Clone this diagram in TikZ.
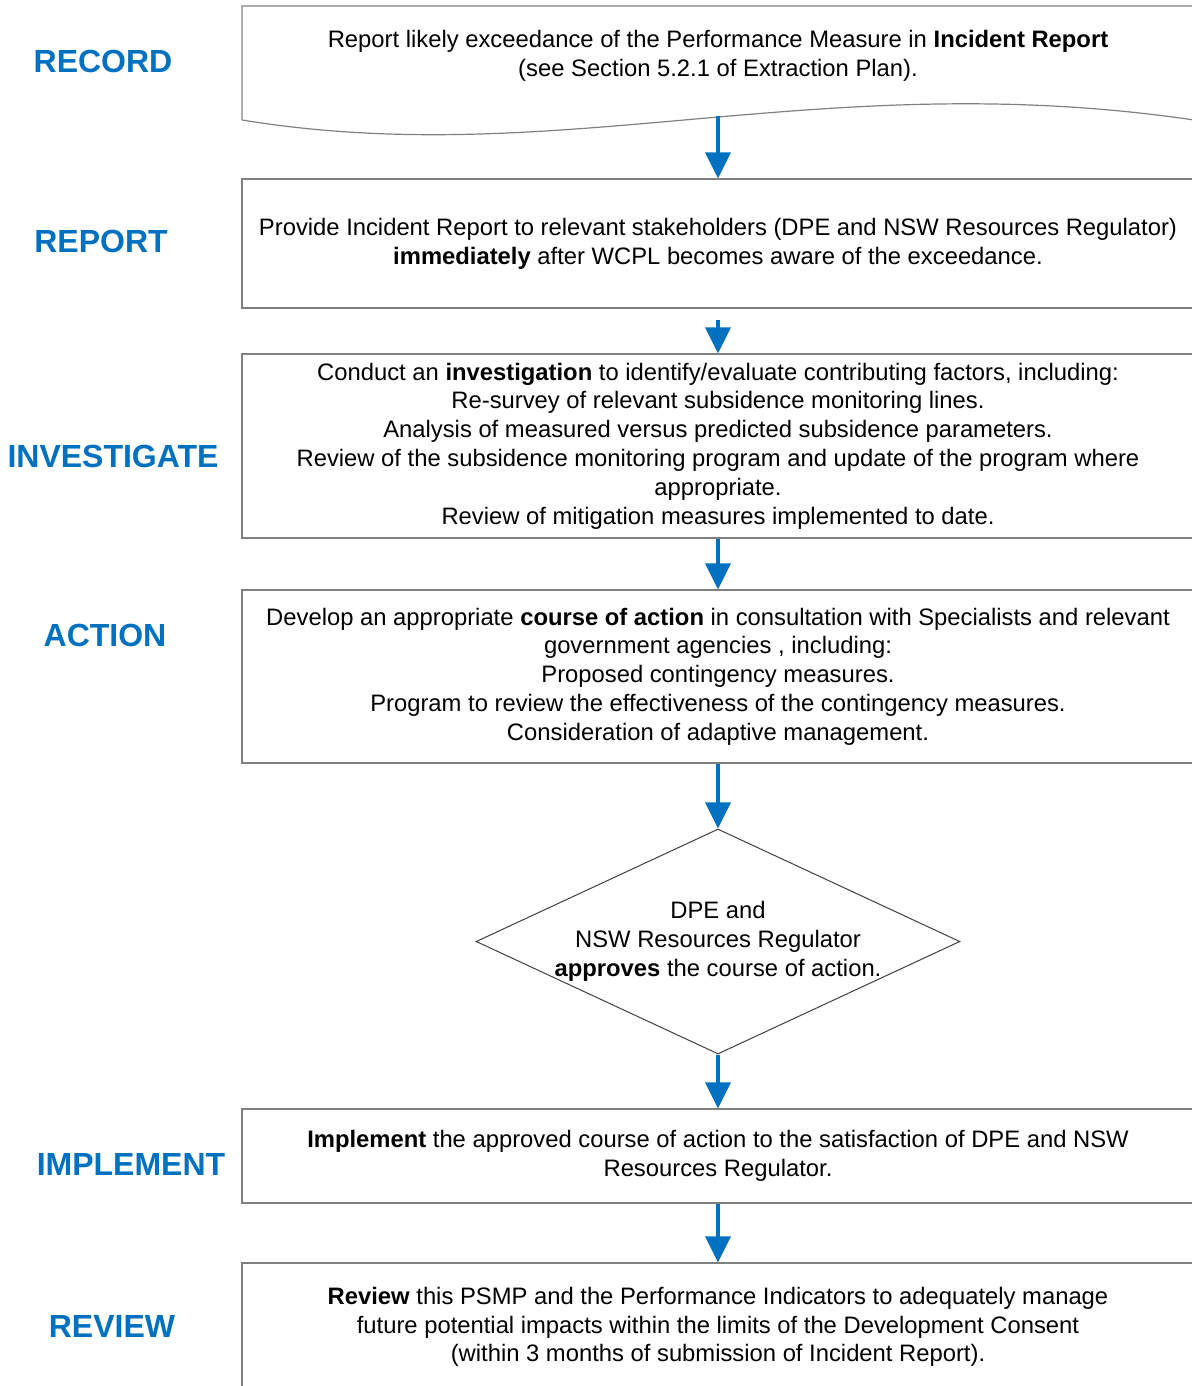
\documentclass[tikz,border=0pt]{standalone}
\usepackage{fontspec}
\setmainfont{Liberation Sans}
\usetikzlibrary{shapes.geometric, arrows.meta}
\definecolor{stageblue}{RGB}{0,112,192}
\definecolor{edgegray}{RGB}{128,128,128}

\begin{document}
\begin{tikzpicture}[x=0.5pt, y=-0.5pt,
        box/.style={draw=edgegray, line width=0.6pt, minimum width=476pt, inner sep=0pt, align=center, font=\fontsize{11.9}{14.4}\selectfont},
        stage/.style={text=stageblue, font=\fontsize{16}{19}\selectfont\bfseries},
        flow/.style={draw=stageblue, line width=1.8pt, -{Triangle[length=13pt, width=12.5pt]}}]
        \useasboundingbox (0,0) rectangle (1192,1386);
        \clip (0,0) rectangle (1192,1386);

        % Stage Labels (Left Column)
        \node[stage] (lrecord) at (103,61) {RECORD};
        \node[stage] (lreport) at (101,241) {REPORT};
        \node[stage] (linvest) at (113,456) {INVESTIGATE};
        \node[stage] (laction) at (105,635) {ACTION};
        \node[stage] (limplement) at (131,1164) {IMPLEMENT};
        \node[stage] (lreview) at (112,1326) {REVIEW};

        % Record (document shape)
        \draw[edgegray, line width=0.6pt] (242,120) -- (242,6) -- (1194,6) -- (1194,120)
            .. controls (820,65) and (560,172) .. (242,120);
        \node[align=center, font=\fontsize{11.9}{14.4}\selectfont] (record) at (718,55.5)
            {Report likely exceedance of the Performance Measure in \textbf{Incident Report}\\(see Section 5.2.1 of Extraction Plan).};
        \coordinate (recordend) at (718,116);

        % Process Boxes
        \node[box, minimum height=64.5pt] (report) at (718,243.5)
            {Provide Incident Report to relevant stakeholders (DPE and NSW Resources Regulator)\\\textbf{immediately} after WCPL becomes aware of the exceedance.};
        \node[box, minimum height=92pt] (invest) at (718,446)
            {Conduct an \textbf{investigation} to identify/evaluate contributing factors, including:\\Re-survey of relevant subsidence monitoring lines.\\Analysis of measured versus predicted subsidence parameters.\\Review of the subsidence monitoring program and update of the program where\\appropriate.\\Review of mitigation measures implemented to date.};
        \node[box, minimum height=86.5pt] (action) at (718,676.5)
            {Develop an appropriate \textbf{course of action} in consultation with Specialists and relevant\\government agencies , including:\\Proposed contingency measures.\\Program to review the effectiveness of the contingency measures.\\Consideration of adaptive management.};

        % Decision
        \node[diamond, aspect=2.15, draw=black!75, line width=0.5pt, inner sep=-1.15pt, align=center, font=\fontsize{11.9}{14.4}\selectfont] (approve) at (718,941.5)
            {DPE and\\NSW Resources Regulator\\\textbf{approves} the course of action.};

        \node[box, minimum height=47pt] (implement) at (718,1156)
            {\textbf{Implement} the approved course of action to the satisfaction of DPE and NSW\\Resources Regulator.};
        \node[box, minimum height=64pt] (review) at (718,1327)
            {\textbf{Review} this PSMP and the Performance Indicators to adequately manage\\future potential impacts within the limits of the Development Consent\\(within 3 months of submission of Incident Report).};

        % Flow Arrows
        \draw[flow] (recordend) -- (report.north);
        \draw[flow] ([yshift=-5.5pt]report.south) -- (invest.north);
        \draw[flow] (invest.south) -- (action.north);
        \draw[flow] (action.south) -- (approve.north);
        \draw[flow] (approve.south) -- (implement.north);
        \draw[flow] (implement.south) -- (review.north);
    \end{tikzpicture}
\end{document}
